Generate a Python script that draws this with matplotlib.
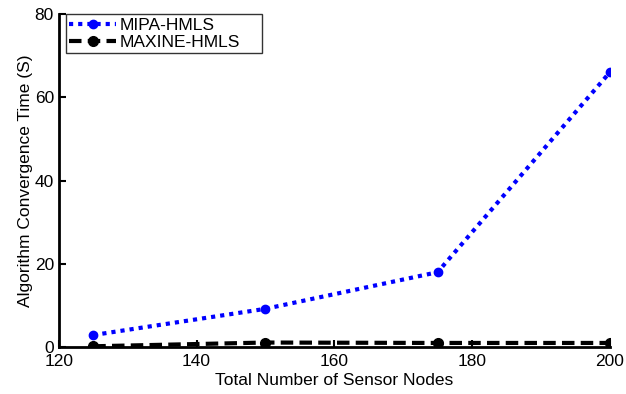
import matplotlib
matplotlib.use("Agg")
import matplotlib.pyplot as plt

plt.rcParams["font.family"] = ["Liberation Sans", "DejaVu Sans"]

nodes = [125, 150, 175, 200]
mipa_hmls = [2.9, 9.2, 18.0, 66.0]
maxine_hmls = [0.2, 1.1, 1.0, 1.0]

fig = plt.figure(figsize=(6.26, 3.94), dpi=100)
ax = fig.add_axes([0.094, 0.119, 0.880, 0.845])

ax.plot(nodes, mipa_hmls, color="blue", linestyle=(0, (1, 1.2)), linewidth=3,
        marker="o", markersize=6, label="MIPA-HMLS")
ax.plot(nodes, maxine_hmls, color="black", linestyle=(0, (3, 1.5)), linewidth=3,
        marker="o", markersize=7, markerfacecolor="black", label="MAXINE-HMLS")

ax.set_xlim(120, 200)
ax.set_ylim(0, 80)
ax.set_xticks([120, 140, 160, 180, 200])
ax.set_yticks([0, 20, 40, 60, 80])
ax.spines["top"].set_visible(False)
ax.spines["right"].set_visible(False)
ax.spines["left"].set_linewidth(2)
ax.spines["bottom"].set_linewidth(2)
ax.tick_params(direction="in", length=5, width=1.5, labelsize=12.5)
ax.tick_params(axis="x", pad=5)
ax.set_xlabel("Total Number of Sensor Nodes", fontsize=12.5, labelpad=3)
ax.set_ylabel("Algorithm Convergence Time (S)", fontsize=12.5, labelpad=1)

# legend box stretched to the reference width (MATLAB-style padding on the right)
leg = ax.legend(loc="upper left", bbox_to_anchor=(0.0127, 0.0, 0.356, 1.0),
                mode="expand", borderaxespad=0, fontsize=12.5, frameon=True,
                fancybox=False, edgecolor="black", handlelength=2.7,
                handletextpad=0.2, borderpad=0.2, labelspacing=0.1)
leg.get_frame().set_linewidth(1)

fig.savefig("out.png", dpi=100)
